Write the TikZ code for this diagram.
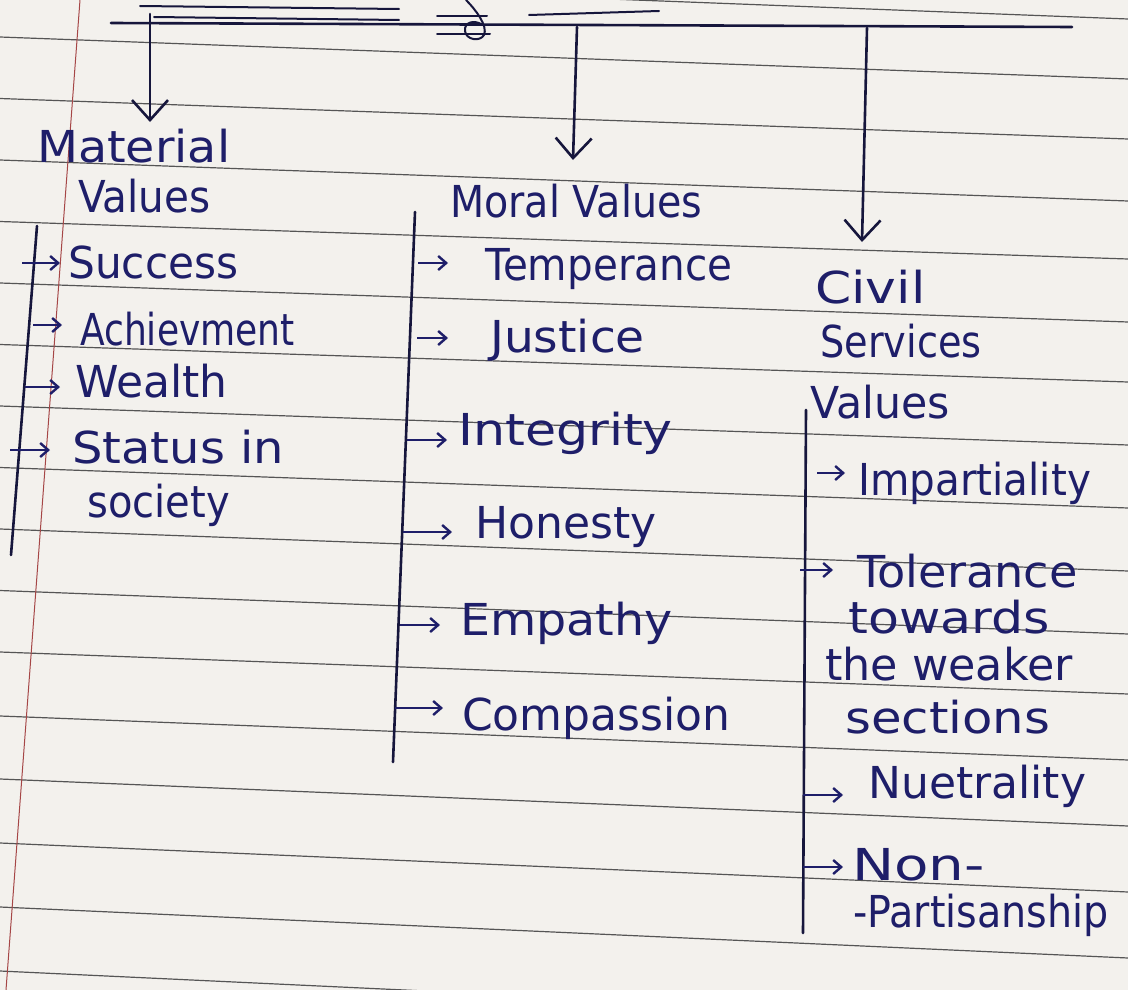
\documentclass[tikz,border=0pt]{standalone}
\usepackage{fontspec}
\setmainfont{DejaVu Sans}
\usetikzlibrary{arrows.meta}
\definecolor{paper}{RGB}{243,241,237}
\definecolor{rulegray}{RGB}{85,85,85}
\definecolor{margin}{RGB}{165,70,70}
\definecolor{ink}{RGB}{30,30,105}
\definecolor{pen}{RGB}{22,22,60}
\tikzset{
 hw/.style={anchor=base west,inner sep=0pt,text=ink,font=\fontsize{44}{52}\selectfont},
 ruling/.style={rulegray,line width=1.2pt},
 penline/.style={pen,line width=2.6pt,line cap=round},
 dropline/.style={pen,line width=2.6pt,line cap=round,-{Straight Barb[length=20pt,width=36pt]}},
 bul/.style={ink,line width=2.4pt,-{Straight Barb[length=8pt,width=14pt]}},
 spine/.style={pen,line width=2.6pt,line cap=round}
}
\newcommand{\hwx}[2]{\scalebox{#1}[1]{#2}}
\begin{document}
\begin{tikzpicture}[x=1pt,y=-1pt]
\path[use as bounding box,fill=paper] (0,0) rectangle (1128,990);
\begin{scope}
\clip (0,0) rectangle (1128,990);
\foreach \a/\b in {-24.5/19,37/79,98.5/139,160/201,221.5/259,283/322,344.5/382,406/445,467.5/508,529/571,590.5/634,652/694,716/760,779/826,843/892,907/958,971/1024}
  \draw[ruling] (0,\a) -- (1128,\b);
\draw[margin,line width=1pt] (80,0) -- (6,990);
\end{scope}

% title remnants at the top
\draw[penline,line width=2pt] (140,6) -- (399,9);
\draw[penline,line width=2pt] (154,17) -- (399,20);
\draw[penline,line width=2pt] (529,15) -- (659,11);
\draw[penline,line width=2pt] (437,16) -- (487,16);
\draw[penline,line width=2pt] (437,34) -- (490,34);
\draw[penline,line width=2pt] (466,0) .. controls (476,10) and (488,26) .. (484,35) .. controls (480,42) and (466,40) .. (465,31) .. controls (464,22) and (474,20) .. (481,24);

% header line and drops
\coordinate (hL) at (111,23);
\coordinate (hR) at (1072,27);
\draw[penline] (hL) -- (hR);
\coordinate (d1) at (150,14);
\coordinate (t1) at (150,122);
\coordinate (d2) at (577,27);
\coordinate (t2) at (573,160);
\coordinate (d3) at (867,28);
\coordinate (t3) at (862,242);
\draw[dropline] (d1) -- (t1);
\draw[dropline] (d2) -- (t2);
\draw[dropline] (d3) -- (t3);

% column 1
\node[hw] (mat) at (37,162) {\hwx{1.08}{Material}};
\node[hw] (matv) at (78,212) {\hwx{0.92}{Values}};
\node[hw] (succ) at (68,278) {\hwx{0.96}{Success}};
\node[hw] (ach) at (80,345) {\hwx{0.82}{Achievment}};
\node[hw] (wea) at (75,397) {Wealth};
\node[hw] (sta) at (72,463) {\hwx{1.09}{Status in}};
\node[hw] (soc) at (87,517) {\hwx{0.91}{society}};
\coordinate (s1t) at (37,226);
\coordinate (s1b) at (11,555);
\draw[spine] (s1t) -- (s1b);
\draw[bul] ([xshift=-46pt,yshift=15pt]succ.base west) -- ([xshift=-8pt,yshift=15pt]succ.base west);
\draw[bul] ([xshift=-47pt,yshift=20pt]ach.base west) -- ([xshift=-18pt,yshift=20pt]ach.base west);
\draw[bul] ([xshift=-50pt,yshift=10pt]wea.base west) -- ([xshift=-15pt,yshift=10pt]wea.base west);
\draw[bul] ([xshift=-62pt,yshift=13pt]sta.base west) -- ([xshift=-22pt,yshift=13pt]sta.base west);

% column 2
\node[hw] (mor) at (450,217) {\hwx{0.9}{Moral Values}};
\node[hw] (tem) at (485,280) {\hwx{0.92}{Temperance}};
\node[hw] (jus) at (490,352) {\hwx{1.07}{Justice}};
\node[hw] (int) at (458,445) {\hwx{1.15}{Integrity}};
\node[hw] (hon) at (475,538) {Honesty};
\node[hw] (emp) at (460,635) {\hwx{1.08}{Empathy}};
\node[hw] (com) at (462,730) {Compassion};
\coordinate (s2t) at (415,212);
\coordinate (s2b) at (393,762);
\draw[spine] (s2t) -- (s2b);
\draw[bul] ([xshift=-67pt,yshift=17pt]tem.base west) -- ([xshift=-37pt,yshift=17pt]tem.base west);
\draw[bul] ([xshift=-73pt,yshift=14pt]jus.base west) -- ([xshift=-42pt,yshift=14pt]jus.base west);
\draw[bul] ([xshift=-51pt,yshift=5pt]int.base west) -- ([xshift=-11pt,yshift=5pt]int.base west);
\draw[bul] ([xshift=-72pt,yshift=6pt]hon.base west) -- ([xshift=-23pt,yshift=6pt]hon.base west);
\draw[bul] ([xshift=-60pt,yshift=10pt]emp.base west) -- ([xshift=-20pt,yshift=10pt]emp.base west);
\draw[bul] ([xshift=-67pt,yshift=22pt]com.base west) -- ([xshift=-19pt,yshift=22pt]com.base west);

% column 3
\node[hw] (civ) at (815,303) {\hwx{1.18}{Civil}};
\node[hw] (ser) at (820,357) {\hwx{0.87}{Services}};
\node[hw] (csv) at (810,418) {\hwx{0.97}{Values}};
\node[hw] (imp) at (858,495) {\hwx{0.92}{Impartiality}};
\node[hw] (tol) at (857,587) {\hwx{1.05}{Tolerance}};
\node[hw] (tow) at (848,633) {\hwx{1.15}{towards}};
\node[hw] (wkr) at (825,680) {\hwx{1.01}{the weaker}};
\node[hw] (sec) at (845,733) {\hwx{1.13}{sections}};
\node[hw] (neu) at (868,798) {Nuetrality};
\node[hw] (non) at (852,880) {\hwx{1.28}{Non-}};
\node[hw] (par) at (853,927) {\hwx{0.9}{-Partisanship}};
\coordinate (s3t) at (806,410);
\coordinate (s3b) at (803,933);
\draw[spine] (s3t) -- (s3b);
\draw[bul] ([xshift=-41pt,yshift=22pt]imp.base west) -- ([xshift=-13pt,yshift=22pt]imp.base west);
\draw[bul] ([xshift=-57pt,yshift=17pt]tol.base west) -- ([xshift=-24pt,yshift=17pt]tol.base west);
\draw[bul] ([xshift=-65pt,yshift=3pt]neu.base west) -- ([xshift=-25pt,yshift=3pt]neu.base west);
\draw[bul] ([xshift=-49pt,yshift=13pt]non.base west) -- ([xshift=-9pt,yshift=13pt]non.base west);
\end{tikzpicture}
\end{document}
